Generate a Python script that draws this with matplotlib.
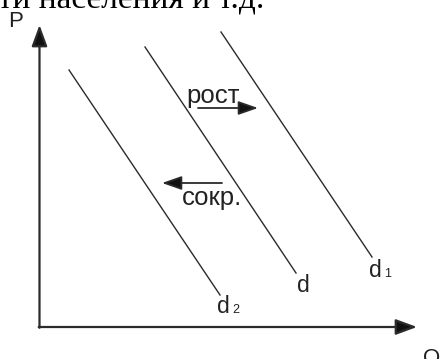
import matplotlib.pyplot as plt

# demand lines: (x_top, y_top) -> (x_bottom, y_bottom), image pixel coords
line_names = ["d2", "d", "d1"]
x_top = [69, 145, 221]
y_top = [70, 47, 32]
x_bot = [220, 296, 372]
y_bot = [295, 273, 257]

# label of every line: main letter, subscript, anchor (left, baseline)
label_main = ["d", "d", "d"]
label_sub = ["2", "", "1"]
label_x = [217, 297, 369]
label_y = [313, 292, 277]

# shift arrows: text, start, end
shift_text = ["рост", "сокр."]
shift_text_x = [186, 182]
shift_text_y = [103, 205]
shift_x0 = [198, 222]
shift_x1 = [258, 162]
shift_y = [108, 183]

origin = (39.5, 327)
p_top = 25
q_right = 417

fig = plt.figure(figsize=(4.42, 3.59), dpi=100)
ax = fig.add_axes([0, 0, 1, 1])
ax.set_xlim(0, 442)
ax.set_ylim(359, 0)
ax.axis("off")

sans = "Liberation Sans"
dark = "#2b2b2b"

# axes with arrows
axis_style = dict(arrowstyle="-|>,head_length=13,head_width=4.8", mutation_scale=1,
                  lw=1.6, color=dark, fc="#111111", shrinkA=0, shrinkB=0)
ax.annotate("", xy=(origin[0], p_top), xytext=(origin[0], origin[1] + 0.8), arrowprops=axis_style)
ax.annotate("", xy=(q_right, origin[1]), xytext=(origin[0] - 0.8, origin[1]), arrowprops=axis_style)
ax.text(8, 27, "P", fontsize=16, family=sans, color="#222222", va="baseline")
ax.text(423, 364, "Q", fontsize=16, family=sans, color="#222222", va="baseline")

# header line from the page (cut off at the top)
ax.text(-2, 7, "ти населения и т.д.", fontsize=24, family="Liberation Serif",
        color="black", va="baseline")

for i in range(len(line_names)):
    ax.plot([x_top[i], x_bot[i]], [y_top[i], y_bot[i]], color=dark, lw=1.0)
    ax.text(label_x[i], label_y[i], label_main[i], fontsize=16.5, family=sans,
            color="#222222", va="baseline")
    if label_sub[i]:
        ax.text(label_x[i] + 15.5, label_y[i], label_sub[i], fontsize=9, family=sans,
                color="#222222", va="baseline")

shift_style = dict(arrowstyle="-|>,head_length=12,head_width=4.2", mutation_scale=1,
                   lw=1.3, color=dark, fc="#111111", shrinkA=0, shrinkB=0)
for i in range(len(shift_text)):
    ax.annotate("", xy=(shift_x1[i], shift_y[i]), xytext=(shift_x0[i], shift_y[i]),
                arrowprops=shift_style)
    ax.text(shift_text_x[i], shift_text_y[i], shift_text[i], fontsize=18.5, family=sans,
            color="#222222", va="baseline")

plt.savefig("out.png", dpi=100)
